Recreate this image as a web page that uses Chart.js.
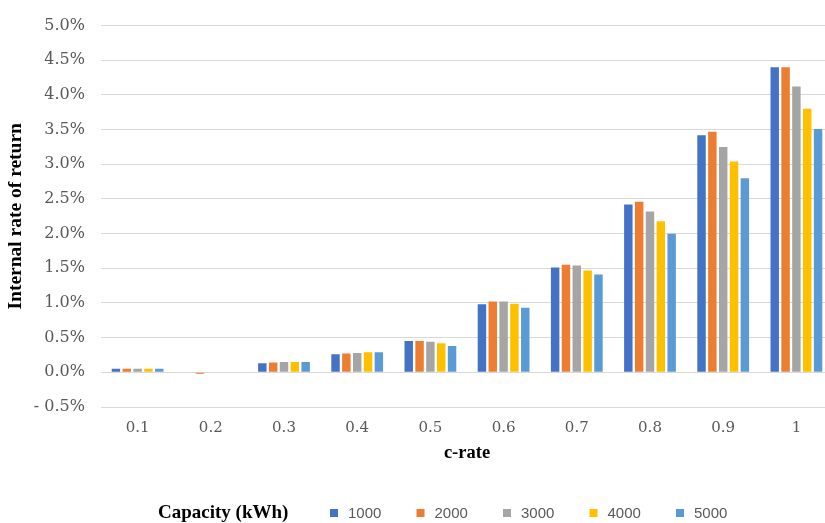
<!DOCTYPE html>
<html>
<head>
<meta charset="utf-8">
<script src="https://cdn.jsdelivr.net/npm/chart.js@4.4.1/dist/chart.umd.min.js"></script>
<style>
  html, body { margin: 0; padding: 0; background: #fff; overflow: hidden; }
  #wrap { width: 845px; height: 523px; }
</style>
</head>
<body>
<div id="wrap"><canvas id="chartViz" width="845" height="523"></canvas></div>
<script>
var cRates = ["0.1", "0.2", "0.3", "0.4", "0.5", "0.6", "0.7", "0.8", "0.9", "1"];
var capacities = ["1000", "2000", "3000", "4000", "5000"];
var colors = ["#4472C4", "#ED7D31", "#A5A5A5", "#FFC000", "#5B9BD5"];

// internal rate of return in %
var irr1000 = [0.05, 0.00, 0.13, 0.26, 0.45, 0.98, 1.51, 2.42, 3.42, 4.40];
var irr2000 = [0.05, -0.02, 0.14, 0.27, 0.45, 1.02, 1.55, 2.46, 3.47, 4.40];
var irr3000 = [0.05, 0.00, 0.15, 0.28, 0.44, 1.02, 1.54, 2.32, 3.25, 4.12];
var irr4000 = [0.05, 0.00, 0.15, 0.29, 0.42, 0.99, 1.47, 2.18, 3.04, 3.80];
var irr5000 = [0.05, 0.00, 0.15, 0.29, 0.38, 0.93, 1.41, 2.00, 2.80, 3.51];

var yMin = -0.5, yMax = 5.0, yStep = 0.5;
var legendTitle = "Capacity (kWh)";

var series = [irr1000, irr2000, irr3000, irr4000, irr5000];

function fmtPct(v) {
    if (v < 0) {
        return "- " + Math.abs(v).toFixed(1) + "%";
    }
    return v.toFixed(1) + "%";
}

// legend drawn by hand so the title can sit to the left of the items
var bottomLegend = {
    id: "bottomLegend",
    afterDraw: function (chart) {
        var ctx = chart.ctx;
        var y = 513;
        ctx.save();
        ctx.textBaseline = "middle";
        ctx.fillStyle = "#000";
        ctx.font = "bold 19px 'Liberation Serif'";
        ctx.fillText(legendTitle, 158, y);
        ctx.font = "15px 'Liberation Sans'";
        for (var i = 0; i < capacities.length; i++) {
            var x = 330 + i * 86.5;
            ctx.fillStyle = colors[i];
            ctx.fillRect(x, y - 4, 8, 8);
            ctx.fillStyle = "#595959";
            ctx.fillText(capacities[i], x + 18, y + 1);
        }
        ctx.restore();
    }
};

window.onload = function () {
    var datasets = [];
    capacities.forEach(function (cap, i) {
        datasets.push({
            label: cap,
            data: series[i],
            backgroundColor: colors[i],
            borderWidth: 0,
            categoryPercentage: 0.74,
            barPercentage: 0.78
        });
    });

    var context = document.getElementById("chartViz").getContext("2d");
    var chart = new Chart(context, {
        type: "bar",
        data: { labels: cRates, datasets: datasets },
        options: {
            responsive: false,
            animation: false,
            layout: { padding: { top: 22, right: 12, bottom: 56, left: 0 } },
            plugins: {
                legend: { display: false },
                tooltip: { enabled: false }
            },
            scales: {
                x: {
                    grid: { display: false, drawTicks: false },
                    border: { display: false },
                    ticks: {
                        color: "#595959",
                        padding: 12,
                        font: { family: "'DejaVu Serif'", size: 15 }
                    },
                    title: {
                        display: true,
                        text: "c-rate",
                        color: "#000",
                        padding: { top: 0, bottom: 3 },
                        font: { family: "'Liberation Serif'", size: 18.5, weight: "bold" }
                    },
                    afterFit: function (s) { s.height = 60; }
                },
                y: {
                    min: yMin,
                    max: yMax,
                    grid: { color: "#d9d9d9", lineWidth: 1, drawTicks: false },
                    border: { display: false },
                    ticks: {
                        stepSize: yStep,
                        color: "#595959",
                        padding: 16,
                        font: { family: "'DejaVu Serif'", size: 16 },
                        callback: function (v) { return fmtPct(v); }
                    },
                    title: {
                        display: true,
                        text: "Internal rate of return",
                        color: "#000",
                        padding: { top: 4, bottom: 0 },
                        font: { family: "'Liberation Serif'", size: 19.5, weight: "bold" }
                    },
                    afterFit: function (s) { s.width = 101; }
                }
            }
        },
        plugins: [bottomLegend]
    });
};
</script>
</body>
</html>
